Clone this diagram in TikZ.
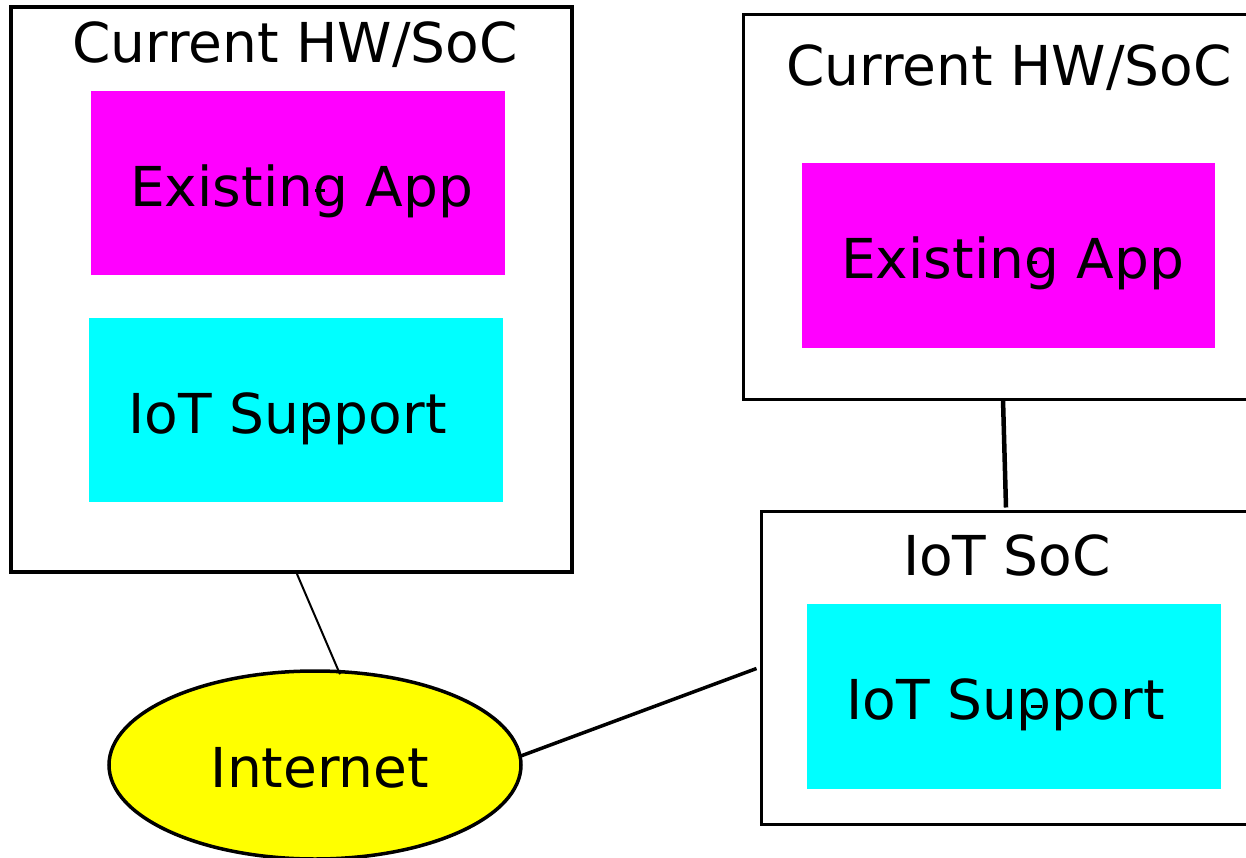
\documentclass[tikz,border=0pt]{standalone}
\usepackage{fontspec}
\setmainfont{DejaVu Sans}
\usetikzlibrary{shapes.geometric}
\definecolor{appmag}{HTML}{FF00FF}
\definecolor{iotcyan}{HTML}{00FFFF}
\definecolor{netyellow}{HTML}{FFFF00}
\begin{document}
\begin{tikzpicture}[x=1pt,y=-1pt,
  frame/.style={draw=black,rectangle,inner sep=0pt,fill=white},
  block/.style={rectangle,inner sep=0pt},
  label/.style={anchor=base west,inner sep=0pt,font=\fontsize{55}{66}\selectfont},
  title/.style={anchor=base,inner sep=0pt,font=\fontsize{55}{66}\selectfont},
  tick/.style={line width=3pt},
  link/.style={draw=black}]
\clip (0,0) rectangle (1246,858);
\fill[white] (0,0) rectangle (1246,858);

% left device: current hardware with its IoT support
\node[frame,line width=4pt,minimum width=561pt,minimum height=565pt] (lbox) at (291.5,289.5) {};
\node[title] (ltitle) at (295,63) {Current HW/SoC};
\node[block,fill=appmag,minimum width=414pt,minimum height=184pt] (lapp) at (298,183) {};
\node[label] (lapptext) at (130,207) {Existing App};
\node[block,fill=iotcyan,minimum width=414pt,minimum height=184pt] (liot) at (296,410) {};
\node[label] (liottext) at (128,433) {IoT Support};
\draw[tick] (315,191) -- (325,191);
\draw[tick] (313,420) -- (324,420);

% right device: current hardware plus separate IoT SoC
\node[frame,line width=3pt,minimum width=532pt,minimum height=384pt] (rbox) at (1009,207) {};
\node[title] (rtitle) at (1009,86) {Current HW/SoC};
\node[block,fill=appmag,minimum width=413pt,minimum height=185pt] (rapp) at (1008.5,255.5) {};
\node[label] (rapptext) at (841,279) {Existing App};
\draw[tick] (1027,263) -- (1037,263);

\node[frame,line width=3pt,minimum width=514pt,minimum height=313pt] (iot) at (1018,667.5) {};
\node[title] (iottitle) at (1007,575) {IoT SoC};
\node[block,fill=iotcyan,minimum width=414pt,minimum height=185pt] (riot) at (1014,696.5) {};
\node[label] (riottext) at (846,719) {IoT Support};
\draw[tick] (1031,706) -- (1042,706);

% network
\node[ellipse,draw=black,fill=netyellow,line width=3.5pt,inner sep=0pt,
      minimum width=412pt,minimum height=188pt] (inet) at (315,765) {};
\node[title] (inettext) at (320,787) {Internet};

% connectors
\draw[link,line width=2pt] ([xshift=5.5pt]lbox.south) -- ([xshift=25pt,yshift=-5pt]inet.north);
\draw[link,line width=4.5pt] ([xshift=-6pt,yshift=1pt]rbox.south) -- ([xshift=-12pt,yshift=2pt]iot.north);
\draw[link,line width=3.5pt] ([xshift=-2pt,yshift=9pt]inet.east) -- ([xshift=-3pt,yshift=-1pt]iot.west);
\end{tikzpicture}
\end{document}
